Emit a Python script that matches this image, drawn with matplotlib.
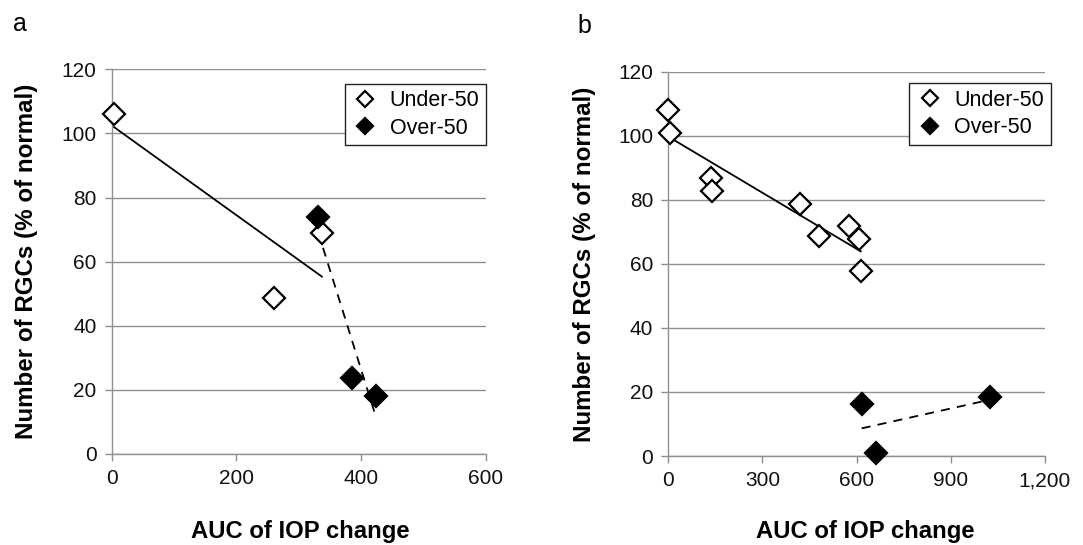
import numpy as np
import matplotlib
matplotlib.use("Agg")
import matplotlib.pyplot as plt
from matplotlib.ticker import FuncFormatter

plt.rcParams['font.family'] = ['Liberation Sans', 'DejaVu Sans']

# panel a
a_under_x = [4, 260, 337]
a_under_y = [106, 48.6, 68.8]
a_over_x = [331, 386, 424]
a_over_y = [73.8, 23.6, 18.1]

# panel b
b_under_x = [0, 5, 136, 138, 420, 481, 576, 608, 613]
b_under_y = [108, 101, 86.8, 82.8, 78.8, 68.8, 71.9, 67.7, 57.8]
b_over_x = [616, 661, 1024]
b_over_y = [16.3, 1.0, 18.5]

gray = '#8f8f8f'


def draw(ax, ux, uy, ox, oy, xmax, xticks, leg_anchor, xlab_pos, ypad):
    ax.set_xlim(0, xmax)
    ax.set_ylim(0, 120)
    ax.set_yticks(range(0, 121, 20))
    ax.set_xticks(xticks)
    ax.xaxis.set_major_formatter(FuncFormatter(lambda v, p: f"{int(v):,}"))
    ax.grid(axis='y', color=gray, lw=1.0)
    ax.set_axisbelow(True)
    for s in ['top', 'right']:
        ax.spines[s].set_visible(False)
    for s in ['left', 'bottom']:
        ax.spines[s].set_color(gray)
        ax.spines[s].set_linewidth(1.0)
    ax.tick_params(colors=gray, length=5, width=1.0, labelsize=15, labelcolor='#111111', pad=6)

    # linear trendlines over the data range
    k, b = np.polyfit(ux, uy, 1)
    xs = np.array([min(ux), max(ux)])
    ax.plot(xs, k * xs + b, color='black', lw=1.3, zorder=3)
    k, b = np.polyfit(ox, oy, 1)
    xs = np.array([min(ox), max(ox)])
    ax.plot(xs, k * xs + b, color='black', lw=1.3, ls=(0, (5, 4)), zorder=3)

    ax.plot(ux, uy, 'D', ms=11.5, mfc='white', mec='black', mew=1.6,
            label='Under-50', clip_on=False, zorder=4)
    ax.plot(ox, oy, 'D', ms=11.5, mfc='black', mec='black', mew=1.6,
            label='Over-50', clip_on=False, zorder=4)

    leg = ax.legend(loc='upper right', bbox_to_anchor=leg_anchor, borderaxespad=0,
                    fontsize=15.5, markerscale=0.75, fancybox=False,
                    edgecolor='#222222', framealpha=1, handletextpad=0.5,
                    borderpad=0.3, labelspacing=0.3, handlelength=1.3)
    leg.get_frame().set_linewidth(1.0)

    ax.set_xlabel('AUC of IOP change', fontsize=17.2, fontweight='bold')
    ax.xaxis.set_label_coords(*xlab_pos)
    ax.set_ylabel('Number of RGCs (% of normal)', fontsize=17.4, fontweight='bold', labelpad=ypad)


fig = plt.figure(figsize=(10.83, 5.45), dpi=100)
ax1 = fig.add_axes([0.1031, 0.1670, 0.3456, 0.7058])
ax2 = fig.add_axes([0.6171, 0.1633, 0.3478, 0.7051])

draw(ax1, a_under_x, a_under_y, a_over_x, a_over_y, 600, [0, 200, 400, 600],
     (1.0, 0.962), (0.505, -0.171), 17)
draw(ax2, b_under_x, b_under_y, b_over_x, b_over_y, 1200, [0, 300, 600, 900, 1200],
     (1.015, 0.970), (0.524, -0.166), 16)

fig.text(0.012, 0.944, 'a', fontsize=18)
fig.text(0.533, 0.940, 'b', fontsize=18)

fig.savefig('out.png', dpi=100)
